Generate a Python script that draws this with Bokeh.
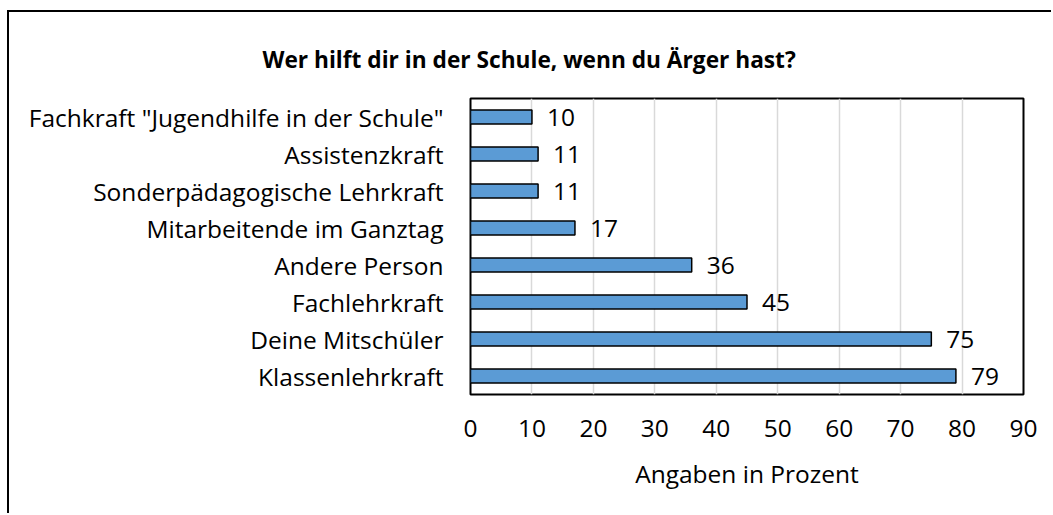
from bokeh.plotting import figure
from bokeh.models import ColumnDataSource, FactorRange, Range1d, FixedTicker
from bokeh.embed import file_html
from bokeh.resources import INLINE
from bokeh.core.properties import value

# Survey answers (percent), listed bottom to top
categories = [
    "Klassenlehrkraft",
    "Deine Mitschüler",
    "Fachlehrkraft",
    "Andere Person",
    "Mitarbeitende im Ganztag",
    "Sonderpädagogische Lehrkraft",
    "Assistenzkraft",
    "Fachkraft \"Jugendhilfe in der Schule\"",
]
percent = [79, 75, 45, 36, 17, 11, 11, 10]
x_ticks = [0, 10, 20, 30, 40, 50, 60, 70, 80, 90]

FONT = "Open Sans"
FS = "24.5px"

# page size, position of the chart's outer border and of the plot frame
PAGE_W, PAGE_H = 1053, 515
OX, OY = 7, 10          # outer border top-left corner on the page
BW = 2                  # outer border width
CX, CY = OX + BW, OY + BW
W, H = PAGE_W - CX, PAGE_H - CY
FL, FR, FT, FB = 470 - CX, 1023 - CX, 98 - CY, 394 - CY

source = ColumnDataSource(dict(cat=categories, pct=percent,
                               lbl=[str(v) for v in percent]))

p = figure(
    width=W, height=H,
    y_range=FactorRange(factors=categories, range_padding=0),
    x_range=Range1d(0, 90),
    output_backend="svg", toolbar_location=None,
    min_border_left=FL, min_border_right=W - FR,
    min_border_top=FT, min_border_bottom=H - FB,
)
p.margin = (OY, 0, 0, OX)
p.styles = {"border-left": f"{BW}px solid black", "border-top": f"{BW}px solid black"}
p.background_fill_color = "white"
p.border_fill_color = "white"
p.outline_line_color = "black"
p.outline_line_width = 2

# horizontal bars
p.hbar(y="cat", right="pct", left=0, height=0.38, source=source,
       fill_color="#5B9BD5", line_color="black", line_width=1.5)

# value labels at the bar ends
p.text(x="pct", y="cat", text="lbl", source=source, x_offset=15,
       text_align="left", text_baseline="middle",
       text_font=value(FONT), text_font_size=FS, text_color="black")

# vertical gridlines only
p.ygrid.grid_line_color = None
p.xgrid.grid_line_color = "#D9D9D9"
p.xgrid.grid_line_width = 1.5
p.xaxis.ticker = FixedTicker(ticks=x_ticks)

for ax in (p.xaxis[0], p.yaxis[0]):
    ax.axis_line_color = None
    ax.major_tick_line_color = None
    ax.minor_tick_line_color = None
    ax.major_label_text_font = FONT
    ax.major_label_text_font_size = FS
    ax.major_label_text_color = "black"

p.xaxis.major_label_standoff = 19
p.yaxis.major_label_standoff = 21
p.xaxis.axis_label = "Angaben in Prozent"
p.xaxis.axis_label_text_font = FONT
p.xaxis.axis_label_text_font_size = FS
p.xaxis.axis_label_text_font_style = "normal"
p.xaxis.axis_label_text_color = "black"
p.xaxis.axis_label_standoff = 17

# chart title, centred on the whole chart area, hung from the top border
p.title.text = "Wer hilft dir in der Schule, wenn du Ärger hast?"
p.title.text_font = FONT
p.title.text_font_style = "bold"
p.title.text_font_size = "22.7px"
p.title.text_color = "black"
p.title.align = "left"
p.title.offset = 262 - 470
p.title.vertical_align = "top"
p.title.standoff = 44

open("out.html", "w").write(file_html(p, INLINE))
